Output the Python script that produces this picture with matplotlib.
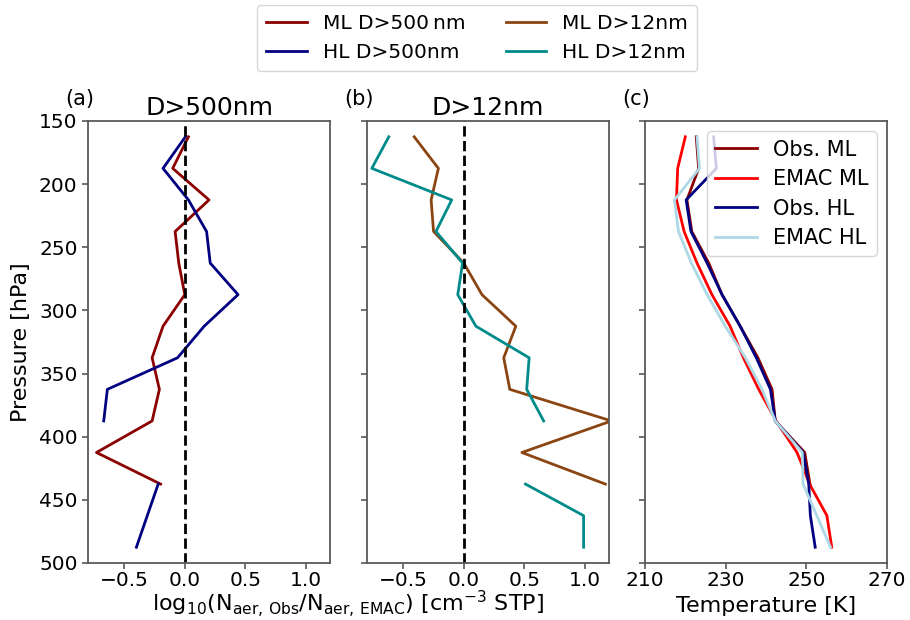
import numpy as np
import matplotlib
matplotlib.use("Agg")
import matplotlib.pyplot as plt

nan = np.nan

# Pressure levels [hPa]
pressure = [162.5, 187.5, 212.5, 237.5, 262.5, 287.5, 312.5,
            337.5, 362.5, 387.5, 412.5, 437.5, 462.5, 487.5]

# log10(N_obs / N_EMAC), particles D > 500 nm
ml_500 = [0.03, -0.10, 0.20, -0.08, -0.05, 0.00, -0.18,
          -0.27, -0.21, -0.27, -0.73, -0.20, nan, nan]
hl_500 = [0.005, -0.18, 0.03, 0.18, 0.21, 0.44, 0.16,
          -0.06, -0.64, -0.67, nan, -0.22, -0.31, -0.40]

# log10(N_obs / N_EMAC), particles D > 12 nm
ml_12 = [-0.41, -0.21, -0.27, -0.25, 0.00, 0.15, 0.43,
         0.33, 0.38, 1.22, 0.48, 1.17, nan, nan]
hl_12 = [-0.62, -0.76, -0.10, -0.23, -0.01, -0.05, 0.10,
         0.54, 0.52, 0.66, nan, 0.51, 0.99, 0.99]

# Temperature profiles [K]
obs_ml_T = [222.7, 223.3, 220.4, 221.6, 225.8, 229.1, 233.6,
            238.0, 241.5, 242.3, 249.6, 250.9, nan, nan]
emac_ml_T = [220.0, 218.1, 217.8, 219.7, 222.9, 226.6, 231.1,
             234.4, 238.2, 242.5, 247.7, 250.8, 255.1, 256.3]
obs_hl_T = [227.0, 227.7, 220.2, 221.4, 225.4, 229.1, 233.6,
            237.6, 241.1, 242.3, 249.2, 250.6, 251.0, 252.2]
emac_hl_T = [222.9, 223.5, 217.3, 218.3, 221.5, 225.4, 229.9,
             234.9, 239.0, 242.3, 249.0, 249.2, 252.6, 256.0]

p_ticks = [150, 200, 250, 300, 350, 400, 450, 500]
ratio_ticks = [-0.5, 0.0, 0.5, 1.0]
ratio_labels = ['\u22120.5', '0.0', '0.5', '1.0']
temp_ticks = [210, 230, 250, 270]

plt.rcParams['font.family'] = ['DejaVu Sans']
fig = plt.figure(figsize=(9.1, 6.2), dpi=100)

W, H = 910.0, 620.0
lefts = [88, 367, 645]
ax_w = 242
top, bottom = 121, 563
axes = [fig.add_axes([l / W, 1 - bottom / H, ax_w / W, (bottom - top) / H])
        for l in lefts]

spine_col = '0.35'
lw = 2.0
for ax in axes:
    ax.set_ylim(500, 150)
    ax.set_yticks(p_ticks)
    for s in ax.spines.values():
        s.set_color(spine_col)
        s.set_linewidth(1.3)
    ax.tick_params(colors=spine_col, labelcolor='black', labelsize=14.5,
                   width=1.2, length=4.5, pad=3)
    ax.tick_params(axis='x', pad=1)

ax_a, ax_b, ax_c = axes

l1, = ax_a.plot(ml_500, pressure, color='#8B0000', lw=lw)
l2, = ax_a.plot(hl_500, pressure, color='#000080', lw=lw)
l3, = ax_b.plot(ml_12, pressure, color='#8B4513', lw=lw)
l4, = ax_b.plot(hl_12, pressure, color='#008B8B', lw=lw)

for ax in (ax_a, ax_b):
    ax.axvline(0, color='black', ls='--', lw=2)
    ax.set_xlim(-0.8, 1.2)
    ax.set_xticks(ratio_ticks)
    ax.set_xticklabels(ratio_labels)

ax_a.set_ylabel('Pressure [hPa]', fontsize=16, labelpad=6)
ax_b.set_yticklabels([])
ax_c.set_yticklabels([])

ax_a.set_title('D>500nm', fontsize=18, pad=4)
ax_b.set_title('D>12nm', fontsize=18, pad=4)

ax_c.plot(obs_ml_T, pressure, color='#8B0000', lw=lw, label='Obs. ML')
ax_c.plot(emac_ml_T, pressure, color='red', lw=lw, label='EMAC ML')
ax_c.plot(obs_hl_T, pressure, color='#000080', lw=lw, label='Obs. HL')
ax_c.plot(emac_hl_T, pressure, color='#ADD8E6', lw=lw, label='EMAC HL')
ax_c.set_xlim(210, 270)
ax_c.set_xticks(temp_ticks)
ax_c.legend(loc='upper right', fontsize=15, handlelength=2.0,
            borderpad=0.4, labelspacing=0.45, handletextpad=0.75,
            borderaxespad=0.5)

for ax, lab in zip(axes, ['(a)', '(b)', '(c)']):
    ax.text(-0.035, 1.028, lab, transform=ax.transAxes, fontsize=15,
            ha='center', va='bottom')

fig.text(348 / W, 1 - 612 / H,
         r'log$_{10}$(N$_{\rm aer,\,Obs}$/N$_{\rm aer,\,EMAC}$) [cm$^{-3}$ STP]',
         ha='center', va='baseline', fontsize=16)
fig.text(766 / W, 1 - 612 / H, 'Temperature [K]',
         ha='center', va='baseline', fontsize=16)

fig.legend([l1, l2, l3, l4],
           ['ML D>500\u2009nm', 'HL D>500nm', 'ML D>12nm', 'HL D>12nm'],
           loc='upper center', bbox_to_anchor=(477 / W, 1 - 5 / H),
           borderaxespad=0.0,
           ncol=2, fontsize=14.5, columnspacing=2.0, handlelength=2.0,
           borderpad=0.45, labelspacing=0.5, handletextpad=0.8)

fig.savefig('out.png', dpi=100)
